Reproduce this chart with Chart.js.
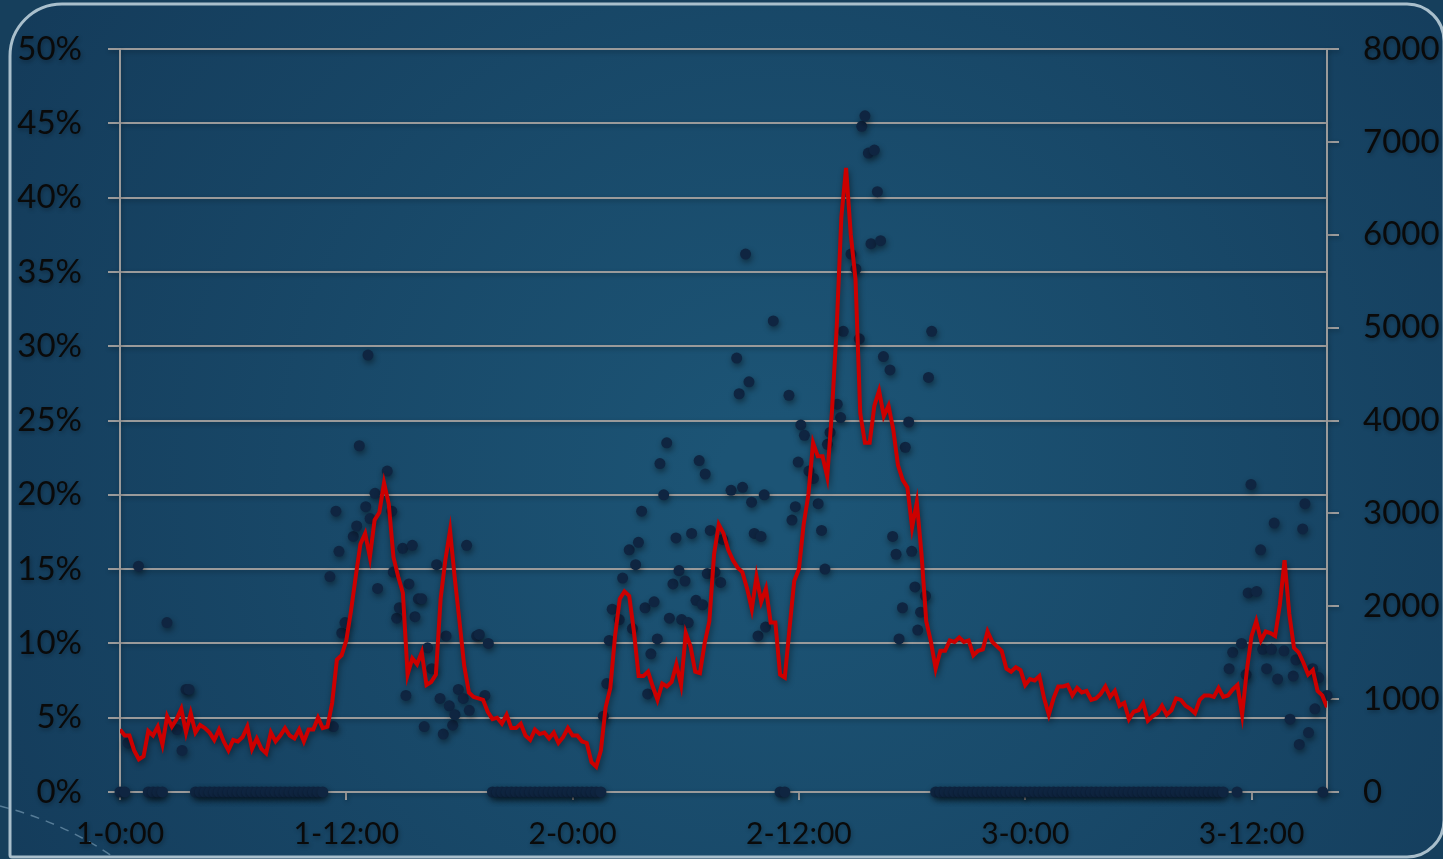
<!DOCTYPE html>
<html>
<head>
<meta charset="utf-8">
<script src="https://cdn.jsdelivr.net/npm/chart.js@4.4.1/dist/chart.umd.min.js"></script>
<style>
  html, body { margin: 0; padding: 0; background: #163f5c; }
  canvas { display: block; }
</style>
</head>
<body>
<canvas id="chart" width="1443" height="859"></canvas>
<script>
// x axis: hours since 1-0:00, ticks every 12h
const xTickLabels = ["1-0:00", "1-12:00", "2-0:00", "2-12:00", "3-0:00", "3-12:00"];
const lineStepHours = 0.25;

// red line (right axis), one reading every 15 minutes
const lineCounts = [
  672, 608, 608, 448, 352, 384, 656, 608, 704, 512,
  816, 704, 784, 896, 640, 848, 640, 720, 688, 640,
  560, 672, 544, 448, 560, 544, 592, 704, 464, 576,
  464, 416, 640, 544, 608, 688, 608, 576, 672, 544,
  672, 672, 800, 688, 704, 960, 1424, 1472,
  1632, 1952, 2320, 2672, 2784, 2528, 2928, 3008, 3328, 3104,
  2528, 2320, 2144, 1264, 1440, 1376, 1504, 1152, 1184, 1264,
  2080, 2496, 2816, 2304, 1840, 1360, 1072, 1024, 1008, 992,
  864, 784, 800, 736, 832, 688, 688, 736, 608, 560,
  672, 624, 640, 576, 640, 528, 592, 688,
  608, 608, 544, 528, 320, 272, 448, 912, 1120, 1680,
  2080, 2160, 2112, 1728, 1248, 1248, 1296, 1136, 992, 1168,
  1136, 1184, 1376, 1152, 1712, 1568, 1296, 1280, 1600, 1840,
  2560, 2880, 2784, 2608, 2496, 2416, 2368, 2192, 1968, 2320,
  2048, 2192, 1824, 1824, 1264, 1232, 1760, 2272,
  2400, 2880, 3200, 3760, 3616, 3616, 3392, 4096, 4992, 6192,
  6720, 6000, 5520, 4080, 3760, 3760, 4160, 4320, 4048, 4160,
  3904, 3520, 3360, 3280, 2848, 3120, 2560, 1840, 1616, 1328,
  1520, 1520, 1632, 1616, 1664, 1616, 1632, 1472, 1520, 1536,
  1728, 1616, 1568, 1520, 1328, 1296, 1344, 1312,
  1152, 1216, 1200, 1248, 1008, 832, 1008, 1136, 1136, 1152,
  1040, 1120, 1072, 1088, 992, 1008, 1056, 1136, 1024, 1088,
  928, 960, 784, 864, 880, 960, 768, 816, 848, 928,
  832, 880, 1008, 992, 928, 896, 848, 992, 1040, 1040,
  1024, 1120, 1024, 1040, 1104, 1152, 832, 1312,
  1680, 1840, 1632, 1728, 1712, 1680, 2016, 2496, 1920, 1552,
  1504, 1392, 1264, 1312, 1088, 1040, 912
];

// dark dots (left axis, %), hour of reading and value
const dotHours = [
  0.42, 0.98, 2.49, 3.02, 3.29, 3.5, 3.66,
  11.13, 11.31, 11.45, 11.61, 11.76, 11.93, 12.37, 12.55, 12.69, 13.03,
  13.15, 13.26, 13.52, 13.66, 14.17, 14.41, 14.49, 14.67, 14.81, 14.99,
  15.16, 15.32, 15.5, 15.64, 15.82, 16.0, 16.13, 16.31, 16.53, 16.79,
  16.97, 17.14, 17.29, 17.46, 17.64, 17.76, 17.94, 18.2, 18.38, 18.52,
  18.91, 19.05, 19.35, 19.53,
  25.63, 25.81, 25.94, 26.1, 26.47, 26.65, 27.0, 27.17, 27.34, 27.49,
  27.66, 27.84, 27.98, 28.15, 28.32, 28.49, 28.63, 28.83, 28.99, 29.13,
  29.32, 29.48, 29.64, 29.78, 29.96, 30.13, 30.31, 30.54, 30.71, 30.89,
  31.03, 31.14, 31.3, 31.55, 31.85, 31.96, 32.4, 32.7, 32.83, 33.01,
  33.17, 33.35, 33.49, 33.63, 33.83, 33.99, 34.16, 34.23, 34.64,
  35.47, 35.63, 35.81, 35.96, 36.1, 36.29, 36.53, 36.77, 37.02, 37.2,
  37.38, 37.51, 37.65, 38.03, 38.21, 38.35, 38.76, 39.02, 39.2, 39.33,
  39.5, 39.68, 39.82, 40.0, 40.16, 40.33, 40.48, 40.83, 40.97, 41.15,
  41.31, 41.49, 41.64, 41.82, 41.98, 42.15, 42.3, 42.45, 42.71, 42.87, 43.04,
  58.81, 59.0, 59.47, 59.71, 59.82, 59.97, 60.27, 60.48, 60.59, 60.8,
  61.06, 61.2, 61.38, 61.72, 62.04, 62.21, 62.35, 62.53, 62.71, 62.83,
  63.02, 63.24, 63.36, 63.56, 64.0
];
const dotValues = [
  3.3, 15.2, 11.4, 4.2, 2.8, 6.9, 6.9,
  14.5, 4.4, 18.9, 16.2, 10.7, 11.4, 17.2, 17.9, 23.3, 19.2,
  29.4, 18.4, 20.1, 13.7, 21.6, 18.9, 14.8, 11.7, 12.4, 16.4,
  6.5, 14.0, 16.6, 11.8, 13.0, 13.0, 4.4, 9.7, 8.3, 15.3,
  6.3, 3.9, 10.5, 5.8, 4.5, 5.2, 6.9, 6.3, 16.6, 5.5,
  10.5, 10.6, 6.5, 10.0,
  5.1, 7.3, 10.2, 12.3, 11.6, 14.4, 16.3, 11.0, 15.3, 16.8,
  18.9, 12.4, 6.6, 9.3, 12.8, 10.3, 22.1, 20.0, 23.5, 11.7,
  14.0, 17.1, 14.9, 11.6, 14.2, 11.4, 17.4, 12.9, 22.3, 12.6,
  21.4, 14.7, 17.6, 14.8, 14.1, 17.0, 20.3, 29.2, 26.8, 20.5,
  36.2, 27.6, 19.5, 17.4, 10.5, 17.2, 20.0, 11.1, 31.7,
  26.7, 18.3, 19.2, 22.2, 24.7, 24.0, 21.6, 21.1, 19.4, 17.6,
  15.0, 23.4, 24.2, 26.1, 25.2, 31.0, 36.2, 35.2, 30.5, 44.8,
  45.5, 43.0, 36.9, 43.2, 40.4, 37.1, 29.3, 28.4, 17.2, 16.0,
  10.3, 12.4, 23.2, 24.9, 16.2, 13.8, 10.9, 12.1, 13.2, 27.9, 31.0,
  8.3, 9.4, 10.0, 7.9, 13.4, 20.7, 13.5, 16.3, 9.6, 8.3,
  9.6, 18.1, 7.6, 9.5, 4.9, 7.8, 8.9, 3.2, 17.7, 19.4,
  4.0, 8.3, 5.6, 7.7, 6.5
];

// hours where the dot reading is 0% (nights)
const zeroHours = [
  0, 0.25, 1.5, 1.75, 2, 2.25,
  4, 4.25, 4.5, 4.75, 5, 5.25, 5.5, 5.75, 6, 6.25, 6.5, 6.75, 7, 7.25,
  7.5, 7.75, 8, 8.25, 8.5, 8.75, 9, 9.25, 9.5, 9.75, 10, 10.25, 10.5, 10.75,
  19.75, 20, 20.25, 20.5, 20.75, 21, 21.25, 21.5, 21.75, 22, 22.25, 22.5,
  22.75, 23, 23.25, 23.5, 23.75, 24, 24.25, 24.5, 24.75, 25, 25.25, 25.5,
  35, 35.25,
  43.25, 43.5, 43.75, 44, 44.25, 44.5, 44.75, 45, 45.25, 45.5, 45.75, 46,
  46.25, 46.5, 46.75, 47, 47.25, 47.5, 47.75, 48, 48.25, 48.5, 48.75, 49,
  49.25, 49.5, 49.75, 50, 50.25, 50.5, 50.75, 51, 51.25, 51.5, 51.75, 52,
  52.25, 52.5, 52.75, 53, 53.25, 53.5, 53.75, 54, 54.25, 54.5, 54.75, 55,
  55.25, 55.5, 55.75, 56, 56.25, 56.5, 56.75, 57, 57.25, 57.5, 57.75, 58,
  58.25, 58.5,
  59.23, 63.78
];

const linePoints = lineCounts.map((v, i) => ({ x: i * lineStepHours, y: v }));
const dotPoints = zeroHours.map(h => ({ x: h, y: 0 }))
  .concat(dotHours.map((h, i) => ({ x: h, y: dotValues[i] })));

const gridGray = "#9a9a9a";
const labelColor = "#0a0a0a";

const backdrop = {
  id: "backdrop",
  beforeDraw(chart) {
    const c = chart.ctx;
    const w = chart.width, h = chart.height;
    c.save();
    c.fillStyle = "#163f5c";
    c.fillRect(0, 0, w, h);
    const g = c.createRadialGradient(780, 480, 60, 780, 480, 900);
    g.addColorStop(0, "#1c5475");
    g.addColorStop(1, "#143b5a");
    c.beginPath();
    c.roundRect(10, 4, 1434, 853, [52, 37, 37, 2]);
    c.fillStyle = g;
    c.fill();
    c.lineWidth = 3;
    c.strokeStyle = "#a9bfcc";
    c.stroke();
    c.beginPath();
    c.setLineDash([9, 7]);
    c.moveTo(0, 806);
    c.quadraticCurveTo(62, 822, 112, 856);
    c.strokeStyle = "rgba(140,175,198,0.55)";
    c.lineWidth = 1.5;
    c.stroke();
    c.restore();
    // soft shadow under text and lines
    c.shadowColor = "rgba(0,0,0,0.3)";
    c.shadowBlur = 4;
    c.shadowOffsetX = 1;
    c.shadowOffsetY = 2;
  }
};

const shadows = {
  id: "shadows",
  beforeDatasetDraw(chart) {
    const c = chart.ctx;
    c.save();
    c.shadowColor = "rgba(0,0,0,0.45)";
    c.shadowBlur = 6;
    c.shadowOffsetX = 1;
    c.shadowOffsetY = 3;
  },
  afterDatasetDraw(chart) {
    chart.ctx.restore();
  }
};

Chart.defaults.font.family = "Lato, 'Open Sans', sans-serif";
Chart.defaults.font.size = 30;
Chart.defaults.color = labelColor;

new Chart(document.getElementById("chart"), {
  type: "line",
  data: {
    datasets: [
      {
        type: "line",
        data: linePoints,
        yAxisID: "y1",
        borderColor: "#cc0000",
        borderWidth: 4,
        pointRadius: 0,
        tension: 0,
        order: 0
      },
      {
        type: "scatter",
        data: dotPoints,
        yAxisID: "y",
        backgroundColor: "#0f2541",
        borderWidth: 0,
        pointRadius: 5.5,
        clip: false,
        order: 1
      }
    ]
  },
  options: {
    responsive: false,
    devicePixelRatio: 1,
    animation: false,
    layout: { padding: { top: 49, right: 0, bottom: 0, left: 0 } },
    plugins: {
      legend: { display: false },
      tooltip: { enabled: false }
    },
    scales: {
      x: {
        type: "linear",
        min: 0,
        max: 64,
        ticks: {
          stepSize: 12,
          includeBounds: false,
          padding: 16,
          maxRotation: 0,
          callback: v => xTickLabels[Math.round(v / 12)] || ""
        },
        grid: { drawOnChartArea: false, drawTicks: true, tickLength: 8, color: gridGray, lineWidth: 2 },
        border: { display: false },
        afterFit: s => { s.height = 67; }
      },
      y: {
        position: "left",
        min: 0,
        max: 50,
        ticks: { stepSize: 5, padding: 26, font: { size: 33 }, callback: v => v + "%" },
        grid: { color: gridGray, lineWidth: 2, tickLength: 12 },
        border: { color: gridGray, width: 2 },
        afterFit: s => { s.width = 120; }
      },
      y1: {
        position: "right",
        min: 0,
        max: 8000,
        ticks: { stepSize: 1000, padding: 24, font: { size: 33 }, callback: v => String(v) },
        grid: { drawOnChartArea: false, color: gridGray, lineWidth: 2, tickLength: 12 },
        border: { color: gridGray, width: 2 },
        afterFit: s => { s.width = 116; }
      }
    }
  },
  plugins: [backdrop, shadows]
});
</script>
</body>
</html>
